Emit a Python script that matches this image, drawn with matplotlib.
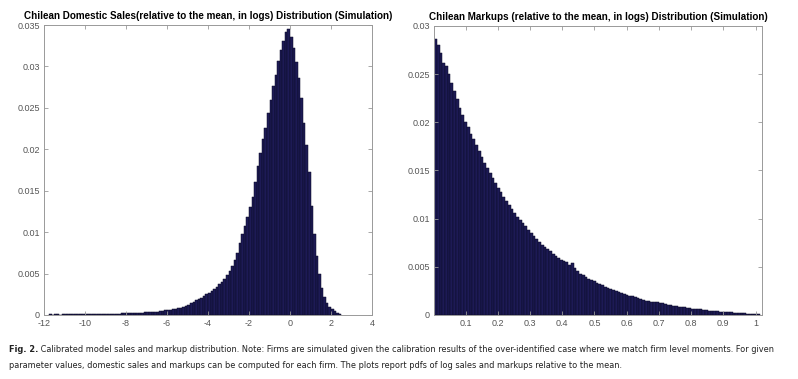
import numpy as np
import matplotlib
matplotlib.use("Agg")
import matplotlib.pyplot as plt

# left panel: log domestic sales relative to mean, share of firms per bin
sales_bin_start = -11.75
sales_bin_width = 0.125
sales_share = [
    0.00006, 0.00005, 0.00006, 0.00006, 0.00005, 0.00006, 0.00006, 0.00006,
    0.00007, 0.00006, 0.00007, 0.00007, 0.00008, 0.00008, 0.00008, 0.00009,
    0.00009, 0.00010, 0.00010, 0.00011, 0.00012, 0.00012, 0.00013, 0.00014,
    0.00014, 0.00015, 0.00016, 0.00017, 0.00018, 0.00019, 0.00020, 0.00021,
    0.00022, 0.00025, 0.00026, 0.00028, 0.00030, 0.00031, 0.00033, 0.00035,
    0.00037, 0.00040, 0.00042, 0.00046, 0.00050, 0.00055, 0.00060, 0.00063,
    0.00068, 0.00072, 0.00080, 0.00090, 0.00098, 0.00110, 0.00120, 0.00140,
    0.00160, 0.00180, 0.00190, 0.00210, 0.00230, 0.00250, 0.00270, 0.00290,
    0.00310, 0.00340, 0.00370, 0.00400, 0.00430, 0.00480, 0.00530, 0.00590,
    0.00660, 0.00750, 0.00870, 0.00980, 0.01070, 0.01180, 0.01300, 0.01430,
    0.01600, 0.01800, 0.01960, 0.02120, 0.02260, 0.02440, 0.02600, 0.02760,
    0.02900, 0.03060, 0.03200, 0.03310, 0.03410, 0.03450, 0.03360, 0.03220,
    0.03050, 0.02860, 0.02620, 0.02320, 0.02050, 0.01720, 0.01320, 0.00980,
    0.00710, 0.00490, 0.00330, 0.00220, 0.00150, 0.00100, 0.00070, 0.00050,
    0.00030, 0.00015,
]

# right panel: log markups relative to mean
markup_bin_start = 0.002
markup_bin_width = 0.0085
markup_share = [
    0.0287, 0.0280, 0.0272, 0.0262, 0.0258, 0.0250, 0.0241, 0.0233, 0.0224,
    0.0215, 0.0208, 0.0200, 0.0195, 0.0188, 0.0183, 0.0176, 0.0170, 0.0164,
    0.0158, 0.0153, 0.0147, 0.0142, 0.0137, 0.0132, 0.0128, 0.0123, 0.0118,
    0.0114, 0.0110, 0.0106, 0.0102, 0.0099, 0.0095, 0.0092, 0.0088, 0.0085,
    0.0082, 0.0079, 0.0076, 0.0073, 0.0071, 0.0068, 0.0066, 0.0063, 0.0061,
    0.0059, 0.0057, 0.0056, 0.0055, 0.0052, 0.0054, 0.0049, 0.0046, 0.0043,
    0.0041, 0.0039, 0.0037, 0.0036, 0.0035, 0.0033, 0.0032, 0.0031, 0.0029,
    0.0028, 0.0027, 0.0026, 0.0025, 0.0024, 0.0023, 0.0022, 0.0021, 0.0020,
    0.0020, 0.0019, 0.0018, 0.0017, 0.0016, 0.0015, 0.0015, 0.0014, 0.0013,
    0.0013, 0.0012, 0.0012, 0.0011, 0.0010, 0.0010, 0.0009, 0.0009, 0.0008,
    0.0008, 0.0008, 0.0007, 0.0007, 0.0006, 0.0006, 0.0006, 0.0006, 0.0005,
    0.0005, 0.0004, 0.0004, 0.0004, 0.0004, 0.0003, 0.0003, 0.0003, 0.0003,
    0.0003, 0.0002, 0.0002, 0.0002, 0.0002, 0.0002, 0.00015, 0.00015, 0.0001,
    0.0001, 0.0001,
]

sales_ticks = [-12, -10, -8, -6, -4, -2, 0, 2, 4]
sales_yticks = [0, 0.005, 0.01, 0.015, 0.02, 0.025, 0.03, 0.035]
markup_ticks = [0.1, 0.2, 0.3, 0.4, 0.5, 0.6, 0.7, 0.8, 0.9, 1]
markup_yticks = [0, 0.005, 0.01, 0.015, 0.02, 0.025, 0.03]

title_left = "Chilean Domestic Sales(relative to the mean, in logs) Distribution (Simulation)"
title_right = "Chilean Markups (relative to the mean, in logs) Distribution (Simulation)"
caption_bold = "Fig. 2."
caption_1 = (" Calibrated model sales and markup distribution. Note: Firms are simulated given the calibration "
             "results of the over-identified case where we match firm level moments. For given")
caption_2 = ("parameter values, domestic sales and markups can be computed for each firm. "
             "The plots report pdfs of log sales and markups relative to the mean.")

BAR = "#1d1a55"
EDGE = "#0b0a26"
TICKCOL = "#555555"


def fmt(v):
    return "0" if v == 0 else ("%g" % v)


def style(ax, xticks, yticks, xlim, ylim):
    ax.set_xlim(*xlim)
    ax.set_ylim(*ylim)
    ax.set_xticks(xticks)
    ax.set_xticklabels([fmt(t) for t in xticks])
    ax.set_yticks(yticks)
    ax.set_yticklabels([fmt(t) for t in yticks])
    ax.tick_params(direction="in", length=3, width=0.6, color="#999999",
                   labelsize=6.5, labelcolor=TICKCOL, top=True, right=True, pad=3)
    for s in ax.spines.values():
        s.set_color("#999999")
        s.set_linewidth(0.7)


def draw_hist(ax, start, width, heights):
    n = len(heights)
    left = start + width * np.arange(n)
    ax.bar(left, heights, width=width, align="edge", color=BAR,
           edgecolor=EDGE, linewidth=0.35)


plt.rcParams['font.family'] = ['Liberation Sans', 'DejaVu Sans']
fig = plt.figure(figsize=(7.98, 3.79), dpi=100)

ax1 = fig.add_axes([0.0551, 0.1689, 0.4111, 0.7651])
draw_hist(ax1, sales_bin_start, sales_bin_width, sales_share)
style(ax1, sales_ticks, sales_yticks, (-12, 4), (0, 0.035))
ax1.set_title(title_left, fontsize=7.1, fontweight="bold", pad=4)

ax2 = fig.add_axes([0.5439, 0.1689, 0.4110, 0.7625])
draw_hist(ax2, markup_bin_start, markup_bin_width, markup_share)
style(ax2, markup_ticks, markup_yticks, (0.002, 1.02), (0, 0.03))
ax2.set_title(title_right, fontsize=7.1, fontweight="bold", pad=4)

# caption: condensed face, sized so line 1 spans the page width like the reference
cap_kw = dict(family='DejaVu Sans', fontstretch='condensed', va='center', color='#222222')
y1 = 1 - 349 / 379
y2 = 1 - 366 / 379
x0 = 0.011
size = 7.0
t0 = fig.text(x0, y1, caption_bold, fontsize=size, fontweight='bold', **cap_kw)
t1 = fig.text(x0, y1, caption_1, fontsize=size, **cap_kw)
t2 = fig.text(x0, y2, caption_2, fontsize=size, **cap_kw)
fig.canvas.draw()
r = fig.canvas.get_renderer()
w = t0.get_window_extent(r).width + t1.get_window_extent(r).width
size = size * (775 - 8) / w
for t in (t0, t1, t2):
    t.set_fontsize(size)
fig.canvas.draw()
t1.set_x(x0 + t0.get_window_extent(r).width / fig.bbox.width)

fig.savefig("out.png", dpi=100)
